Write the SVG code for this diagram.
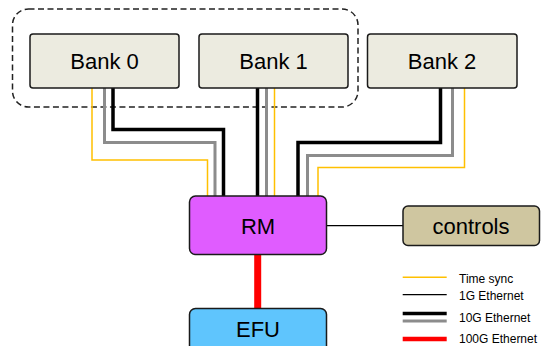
<svg xmlns="http://www.w3.org/2000/svg" width="541" height="346" viewBox="0 0 541 346">
<style>
.box{stroke:#1a1a1a;stroke-width:1.5}
.bank{fill:#ecebe0}
.lbl{font-family:"Liberation Sans",Arial,sans-serif;font-size:22px;fill:#000;text-anchor:middle}
.leg{font-family:"Liberation Sans",Arial,sans-serif;font-size:12px;fill:#000}
.ts{fill:none;stroke:#ffc000;stroke-width:1.5}
.g1{fill:none;stroke:#000;stroke-width:1.2}
.g10b{fill:none;stroke:#000;stroke-width:3.5}
.g10g{fill:none;stroke:#8c8c8c;stroke-width:3}
.g100{fill:none;stroke:#ff0000;stroke-width:7}
</style>
<rect width="541" height="346" fill="#fff"/>
<g id="group-dashed">
<rect x="12.5" y="9" width="345.5" height="98" rx="16" fill="none" stroke="#222" stroke-width="1.5" stroke-dasharray="6 3.5"/>
</g>
<g id="connectors">
<path class="ts" d="M92 88 V160 H207.5 V196"/>
<path class="g10g" d="M104.5 88 V142.5 H215 V196"/>
<path class="g10b" d="M113 88 V129.5 H223.5 V196"/>
<path class="g10b" d="M257.5 88 V196"/>
<path class="g10g" d="M266.5 88 V196"/>
<path class="ts" d="M274.5 88 V196"/>
<path class="g10b" d="M440.5 88 V142.5 H298 V196"/>
<path class="g10g" d="M452.5 88 V155.5 H307.5 V196"/>
<path class="ts" d="M464.5 88 V167.5 H318 V196"/>
<path class="g1" d="M326 225.7 H403"/>
<path class="g100" d="M257.7 254 V308.5"/>
</g>
<g id="bank0">
<rect class="box bank" x="30" y="34" width="149" height="54" rx="3"/>
<text class="lbl" x="104.5" y="69">Bank 0</text>
</g>
<g id="bank1">
<rect class="box bank" x="199" y="34" width="149" height="54" rx="3"/>
<text class="lbl" x="273.5" y="69">Bank 1</text>
</g>
<g id="bank2">
<rect class="box bank" x="367.5" y="34" width="149.5" height="54" rx="3"/>
<text class="lbl" x="442" y="69">Bank 2</text>
</g>
<g id="rm">
<rect class="box" x="189.5" y="196" width="137" height="58.5" rx="6" fill="#e05cff"/>
<text class="lbl" x="258" y="234">RM</text>
</g>
<g id="controls">
<rect class="box" x="403" y="206" width="136.5" height="39.5" rx="5" fill="#cfc6a0"/>
<text class="lbl" x="471" y="233.5">controls</text>
</g>
<g id="efu">
<rect class="box" x="189.5" y="308.5" width="137" height="50" rx="6" fill="#5fc5fd"/>
<text class="lbl" x="258" y="336.5">EFU</text>
</g>
<g id="legend">
<path class="ts" d="M402.7 277.3 H446.7"/>
<path class="g1" d="M402.7 294.7 H446.7"/>
<path class="g10b" d="M402.7 313.5 H446.7"/>
<path class="g10g" d="M402.7 321 H446.7"/>
<path fill="none" stroke="#ff0000" stroke-width="4.5" d="M402.7 339 H446.7"/>
<text class="leg" x="459" y="282.5">Time sync</text>
<text class="leg" x="459" y="299.5">1G Ethernet</text>
<text class="leg" x="459" y="322">10G Ethernet</text>
<text class="leg" x="459" y="343.3">100G Ethernet</text>
</g>
</svg>
